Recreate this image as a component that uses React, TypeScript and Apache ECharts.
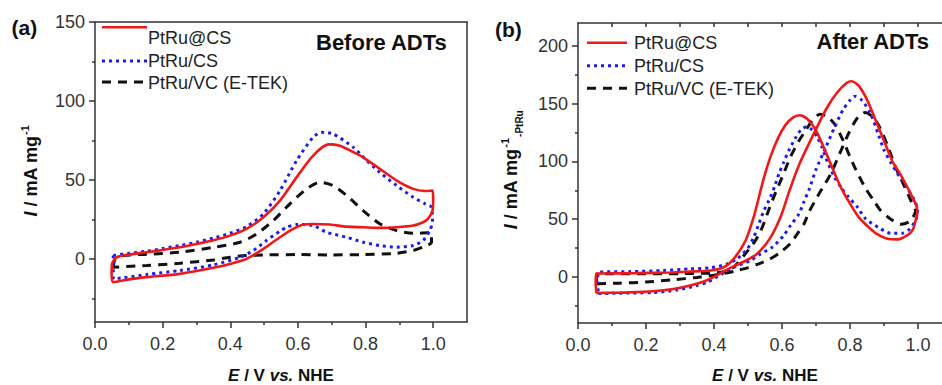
import React, { useEffect, useRef } from "react";
import * as echarts from "echarts";

const FONT = "'Liberation Sans', Arial, sans-serif";

// ---- tick values ----
const xMajor = [0, 0.2, 0.4, 0.6, 0.8, 1.0];
const xMinor = [0.1, 0.3, 0.5, 0.7, 0.9];
const xTopB = [0.1, 0.2, 0.3, 0.4, 0.5, 0.6, 0.7, 0.8, 0.9, 1.0];
const yMajorA = [0, 50, 100, 150];
const yMinorA = [-25, 25, 75, 125];
const yMajorB = [0, 50, 100, 150, 200];
const yMinorB = [-25, 25, 75, 125, 175];

const names = ["PtRu@CS", "PtRu/CS", "PtRu/VC (E-TEK)"];

// ---- (a) Before ADTs : [E (V), I (mA mg-1)] ----
const beforePtRuAtCS: number[][] = [
  [0.05, -3], [0.064, 1], [0.103, 2.7], [0.153, 4.2], [0.2, 5.6], [0.251, 7.3], [0.3, 9.4],
  [0.35, 11.8], [0.399, 14.7], [0.448, 19], [0.498, 26.3], [0.547, 36.9], [0.596, 51.6],
  [0.645, 65.4], [0.69, 72.5], [0.724, 71.7], [0.76, 68], [0.793, 64.3], [0.842, 57],
  [0.892, 49.6], [0.941, 44.3], [0.975, 43], [0.998, 43.2], [1.0, 38], [0.998, 30.6],
  [0.985, 25.5], [0.97, 23.2], [0.941, 21.1], [0.892, 20], [0.842, 19.6], [0.793, 20],
  [0.744, 20.4], [0.695, 21.7], [0.645, 22.1], [0.616, 21.7], [0.586, 19], [0.547, 13.7],
  [0.498, 6.3], [0.448, 0], [0.399, -3.2], [0.35, -5.7], [0.251, -9.5], [0.153, -11.6],
  [0.1, -13], [0.054, -14.8], [0.049, -9], [0.05, -3],
];
const beforePtRuCS: number[][] = [
  [0.054, 2.1], [0.1, 3.5], [0.153, 4.8], [0.2, 6.5], [0.251, 8.4], [0.3, 10.5], [0.35, 13.1],
  [0.399, 16.2], [0.448, 20.4], [0.498, 28.5], [0.547, 43.2], [0.596, 62.2], [0.645, 77],
  [0.67, 80.1], [0.704, 79.1], [0.764, 70.6], [0.8, 63], [0.842, 54.8], [0.892, 46.4],
  [0.941, 39], [0.975, 35], [0.995, 32.7], [0.998, 24], [0.99, 17.9], [0.97, 11.6],
  [0.941, 8.4], [0.892, 7.4], [0.842, 8.4], [0.793, 10.5], [0.744, 13.7], [0.685, 16.8],
  [0.645, 21.1], [0.596, 21.7], [0.567, 20], [0.547, 17.5], [0.507, 11.6], [0.468, 5.3],
  [0.429, 1], [0.35, -3.8], [0.251, -7.4], [0.153, -9.9], [0.084, -12], [0.054, -12.7],
  [0.054, -5], [0.054, 2.1],
];
const beforePtRuVC: number[][] = [
  [0.054, -5.3], [0.06, 0], [0.084, 2.1], [0.153, 2.9], [0.251, 4.2], [0.35, 7.3],
  [0.429, 10.5], [0.478, 15.8], [0.527, 24.2], [0.576, 34.8], [0.626, 44.3], [0.665, 48.5],
  [0.704, 46.4], [0.744, 40.1], [0.793, 30.6], [0.842, 22.2], [0.892, 17.9], [0.941, 16.2],
  [0.995, 16.5], [0.995, 10.5], [0.97, 7.5], [0.941, 5.3], [0.892, 3.5], [0.793, 2.7],
  [0.695, 2.5], [0.596, 2.7], [0.498, 2.5], [0.448, 2.1], [0.399, 1], [0.35, -0.7],
  [0.251, -2.8], [0.153, -4.2], [0.054, -5.3],
];

// ---- (b) After ADTs ----
const afterPtRuAtCS: number[][] = [
  [0.054, -14], [0.1, -13.8], [0.15, -13.5], [0.22, -12.5], [0.28, -10.5], [0.33, -7.5],
  [0.37, -4], [0.4, 0], [0.43, 5], [0.46, 9.5], [0.49, 13.5], [0.527, 20], [0.566, 34],
  [0.596, 52], [0.62, 73], [0.65, 97], [0.7, 128], [0.733, 147], [0.763, 160], [0.79, 168],
  [0.805, 169.5], [0.826, 165.5], [0.851, 153], [0.875, 136], [0.9, 118], [0.925, 100],
  [0.95, 88], [0.975, 74], [0.995, 62], [0.998, 55], [0.993, 49], [0.985, 41], [0.968, 36],
  [0.94, 32.5], [0.91, 33], [0.88, 37], [0.855, 43], [0.825, 52], [0.8, 63.5],
  [0.782, 72.5], [0.763, 84], [0.743, 98], [0.723, 112], [0.7, 127], [0.674, 137],
  [0.652, 140], [0.632, 138], [0.61, 131.5], [0.588, 120], [0.566, 104], [0.547, 86],
  [0.532, 69], [0.517, 52], [0.493, 31.5], [0.458, 15.6], [0.429, 8.3], [0.39, 5.5],
  [0.33, 4.6], [0.27, 3.8], [0.17, 3.2], [0.08, 2.9], [0.054, 2.8], [0.052, -5], [0.054, -14],
];
const afterPtRuCS: number[][] = [
  [0.06, -14.5], [0.12, -14.2], [0.22, -13.6], [0.29, -11.5], [0.35, -7.5], [0.38, -4.7],
  [0.404, -0.9], [0.424, 2.6], [0.458, 8.3], [0.507, 14.1], [0.537, 19.9], [0.571, 25.6],
  [0.605, 35.8], [0.625, 44.5], [0.65, 54.6], [0.664, 64.7], [0.68, 76], [0.7, 93],
  [0.73, 113], [0.755, 130], [0.78, 145], [0.8, 153], [0.815, 156.5], [0.835, 153],
  [0.86, 142], [0.885, 122], [0.9, 110], [0.92, 99], [0.945, 87], [0.97, 76], [0.99, 66],
  [0.999, 58], [0.993, 48.8], [0.973, 40.7], [0.954, 37.8], [0.92, 37.8], [0.885, 42.5],
  [0.846, 50.3], [0.822, 60.3], [0.795, 69.5], [0.775, 77], [0.755, 86], [0.733, 100],
  [0.718, 112], [0.704, 121], [0.688, 127.5], [0.672, 130], [0.656, 127.5], [0.64, 120.5],
  [0.62, 109.5], [0.605, 99.3], [0.591, 89.3], [0.579, 79], [0.566, 69], [0.547, 57.5],
  [0.532, 46], [0.517, 34.3], [0.498, 24.3], [0.468, 15.6], [0.439, 11.3], [0.39, 7.8],
  [0.331, 6.9], [0.25, 5.5], [0.15, 4.5], [0.06, 4], [0.058, -5], [0.06, -14.5],
];
const afterPtRuVC: number[][] = [
  [0.056, -6], [0.12, -5.5], [0.2, -4.5], [0.28, -2.5], [0.35, -0.5], [0.4, 1.5],
  [0.44, 3.5], [0.468, 5.5], [0.5, 8], [0.532, 11.3], [0.565, 15.5], [0.596, 21.3],
  [0.625, 29], [0.645, 37.3], [0.665, 46], [0.679, 56], [0.709, 72], [0.743, 89],
  [0.77, 107], [0.797, 125], [0.82, 137], [0.845, 142.5], [0.865, 139], [0.885, 131],
  [0.91, 114], [0.934, 95], [0.959, 79], [0.979, 66], [0.993, 57], [0.975, 48],
  [0.949, 45.5], [0.92, 50], [0.89, 57.5], [0.87, 66], [0.846, 76.5], [0.817, 93],
  [0.8, 104], [0.78, 118], [0.758, 131], [0.735, 138.5], [0.712, 141], [0.69, 136],
  [0.67, 127], [0.65, 118], [0.625, 104], [0.6, 86], [0.581, 73], [0.561, 58], [0.542, 43],
  [0.522, 31.5], [0.488, 18.5], [0.463, 9.8], [0.443, 5.5], [0.42, 4], [0.38, 3.2],
  [0.3, 2.8], [0.2, 2.6], [0.1, 2.6], [0.056, 2.4], [0.054, -2], [0.056, -6],
];

const RED = "#f01818";
const BLUE = "#1c1cf0";
const BLACK = "#111111";
const AXIS = "#333333";

const lineStyles = [
  { color: RED, width: 2.6, type: "solid" as any },
  { color: BLUE, width: 3, type: [3, 4] as any },
  { color: BLACK, width: 3, type: [9, 7] as any },
];

function measure(font: string, s: string): number {
  const ctx = document.createElement("canvas").getContext("2d");
  if (!ctx) return s.length * 9;
  ctx.font = font;
  return ctx.measureText(s).width;
}

function buildOption() {
  const axLine = { color: AXIS, width: 1.5 };
  const lab = { fontSize: 18, color: "#333", fontFamily: FONT };

  const xFor = (grid: number, major: boolean) => [
    {
      gridIndex: grid, type: "value", min: 0, max: 1.1, position: "bottom",
      axisLine: { show: true, onZero: false, lineStyle: axLine },
      axisTick: { show: true, customValues: xMajor, length: 6, lineStyle: axLine },
      axisLabel: { show: true, customValues: xMajor, margin: 13, formatter: (v: number) => v.toFixed(1), ...lab },
      splitLine: { show: false },
    },
    {
      gridIndex: grid, type: "value", min: 0, max: 1.1, position: "bottom",
      axisLine: { show: false, onZero: false },
      axisTick: { show: true, customValues: xMinor, length: 3, lineStyle: axLine },
      axisLabel: { show: false },
      splitLine: { show: false },
    },
    {
      gridIndex: grid, type: "value", min: 0, max: 1.1, position: "top",
      axisLine: { show: true, onZero: false, lineStyle: axLine },
      axisTick: major
        ? { show: false }
        : { show: true, inside: true, customValues: xTopB, length: 4, lineStyle: axLine },
      axisLabel: { show: false },
      splitLine: { show: false },
    },
  ];

  const yFor = (grid: number, min: number, max: number, majors: number[], minors: number[], right: boolean) => {
    const arr: any[] = [
      {
        gridIndex: grid, type: "value", min, max, position: "left",
        axisLine: { show: true, onZero: false, lineStyle: axLine },
        axisTick: { show: true, customValues: majors, length: 6, lineStyle: axLine },
        axisLabel: { show: true, customValues: majors, margin: 10, ...lab },
        splitLine: { show: false },
      },
      {
        gridIndex: grid, type: "value", min, max, position: "left",
        axisLine: { show: false, onZero: false },
        axisTick: { show: true, customValues: minors, length: 3, lineStyle: axLine },
        axisLabel: { show: false },
        splitLine: { show: false },
      },
    ];
    if (right) {
      arr.push({
        gridIndex: grid, type: "value", min, max, position: "right",
        axisLine: { show: true, onZero: false, lineStyle: axLine },
        axisTick: { show: false }, axisLabel: { show: false }, splitLine: { show: false },
      });
    }
    return arr;
  };

  const xAxis = [...xFor(0, true), ...xFor(1, false)];
  const yAxis = [
    ...yFor(0, -40, 150, yMajorA, yMinorA, true),
    ...yFor(1, -40, 220, yMajorB, yMinorB, false),
  ];

  const mk = (name: string, data: number[][], idx: number, xi: number, yi: number) => ({
    type: "line", name, data, xAxisIndex: xi, yAxisIndex: yi,
    showSymbol: false, symbol: "none", smooth: 0.25, lineStyle: lineStyles[idx],
    z: 3 - idx,
  });

  const series = [
    mk(names[2], beforePtRuVC, 2, 0, 0),
    mk(names[1], beforePtRuCS, 1, 0, 0),
    mk(names[0], beforePtRuAtCS, 0, 0, 0),
    mk(names[2], afterPtRuVC, 2, 3, 3),
    mk(names[1], afterPtRuCS, 1, 3, 3),
    mk(names[0], afterPtRuAtCS, 0, 3, 3),
  ];

  // legend graphics
  const legend = (x1: number, x2: number, tx: number, ys: number[], tys: number[]) => {
    const out: any[] = [];
    for (let i = 0; i < 3; i++) {
      out.push({
        type: "line", shape: { x1, y1: ys[i], x2, y2: ys[i] },
        style: {
          stroke: lineStyles[i].color, lineWidth: lineStyles[i].width,
          lineDash: i === 0 ? null : lineStyles[i].type,
        },
      });
      out.push({
        type: "text", x: tx, y: tys[i],
        style: { text: names[i], fontSize: 18, fontFamily: FONT, fill: "#222", align: "left", verticalAlign: "middle" },
      });
    }
    return out;
  };

  const boldTxt = (text: string, x: number, y: number, size: number, align = "left") => ({
    type: "text", x, y,
    style: { text, fontSize: size, fontWeight: "bold", fontFamily: FONT, fill: "#111", align, verticalAlign: "middle" },
  });

  const richBase = (size: number) => ({
    i: { fontSize: size, fontWeight: "bold", fontStyle: "italic", fontFamily: FONT, fill: "#111" },
    n: { fontSize: size, fontWeight: "bold", fontFamily: FONT, fill: "#111" },
  });

  const xTitle = (cx: number) => ({
    type: "text", x: cx, y: 375,
    style: {
      text: "{i|E}{n| / V }{i|vs.}{n| NHE}", rich: richBase(17),
      align: "center", verticalAlign: "middle", fontSize: 17, fontFamily: FONT,
    },
  });

  const wI = measure(`italic bold 18px ${FONT}`, "I");
  const wMain = wI + measure(`bold 18px ${FONT}`, " / mA mg");
  const wSup = measure(`bold 11px ${FONT}`, "-1");
  const wSub = measure(`bold 10px ${FONT}`, "-PtRu");

  const yTitle = (cx: number, cy: number, withSub: boolean) => {
    const total = wMain + wSup + (withSub ? wSub + 1 : 0);
    const x0 = -total / 2;
    const children: any[] = [
      {
        type: "text", x: x0, y: 0,
        style: { text: "{i|I}{n| / mA mg}", rich: richBase(18), align: "left", verticalAlign: "middle", fontSize: 18, fontFamily: FONT },
      },
      {
        type: "text", x: x0 + wMain + 0.5, y: -6,
        style: { text: "-1", fontSize: 11, fontWeight: "bold", fontFamily: FONT, fill: "#111", align: "left", verticalAlign: "middle" },
      },
    ];
    if (withSub) {
      children.push({
        type: "text", x: x0 + wMain + wSup + 1.5, y: 8.5,
        style: { text: "-PtRu", fontSize: 10, fontWeight: "bold", fontFamily: FONT, fill: "#111", align: "left", verticalAlign: "middle" },
      });
    }
    return { type: "group", x: cx, y: cy, rotation: Math.PI / 2, children };
  };

  const graphic = [
    ...legend(102, 147, 148, [27.3, 61, 82], [38, 61, 83]),
    ...legend(587, 627, 634, [42.7, 65.7, 88.3], [43, 66, 89]),
    boldTxt("(a)", 11.5, 27.5, 21),
    boldTxt("(b)", 495, 29, 21),
    boldTxt("Before ADTs", 316, 42.5, 22),
    boldTxt("After ADTs", 816.5, 41.5, 22),
    xTitle(281),
    xTitle(765),
    yTitle(30.5, 171, false),
    yTitle(511, 170, true),
  ];

  return {
    animation: false,
    backgroundColor: "#ffffff",
    grid: [
      { left: 95, top: 22, width: 372, height: 300, containLabel: false },
      { left: 578, top: 23, width: 374, height: 300, containLabel: false },
    ],
    xAxis,
    yAxis,
    series,
    graphic: { elements: graphic },
  };
}

export default function App() {
  const ref = useRef<HTMLDivElement>(null);
  useEffect(() => {
    if (!ref.current) return;
    const chart = echarts.init(ref.current, null, { renderer: "svg" });
    chart.setOption(buildOption() as any);
    return () => chart.dispose();
  }, []);
  return (
    <div style={{ position: "fixed", left: 0, top: 0, width: 942, height: 385, overflow: "hidden", background: "#fff" }}>
      <div ref={ref} style={{ width: 960, height: 385 }} />
    </div>
  );
}
